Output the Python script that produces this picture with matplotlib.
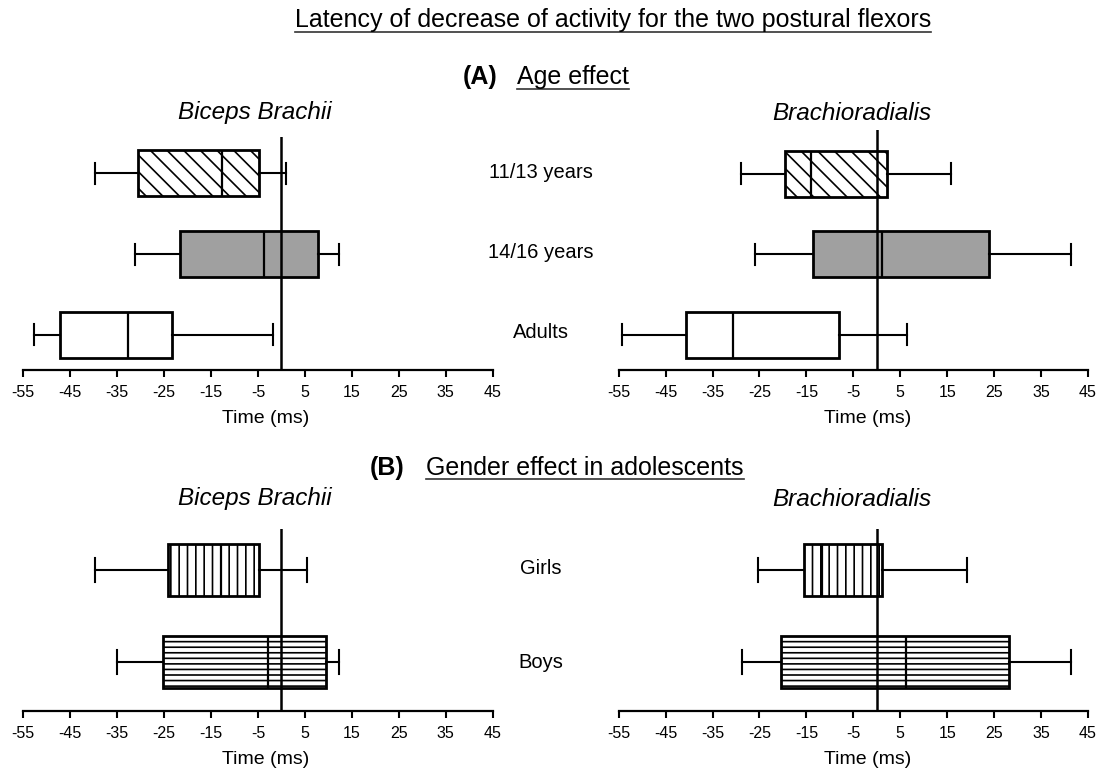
import numpy as np
import matplotlib
matplotlib.use("Agg")
import matplotlib.pyplot as plt
from matplotlib.lines import Line2D

plt.rcParams['font.family'] = ['Liberation Sans', 'DejaVu Sans']
plt.rcParams['hatch.linewidth'] = 1.2

W, H = 1102, 773

# ============ DATA (ms) ============
age_groups = ["11/13 years", "14/16 years", "Adults"]
gender_groups = ["Girls", "Boys"]

# age effect, biceps brachii
bb_age_whislo = [-39.7, -31.2, -52.7]
bb_age_q1 = [-30.5, -21.6, -47.1]
bb_age_med = [-12.7, -3.8, -32.6]
bb_age_q3 = [-4.8, 7.7, -23.3]
bb_age_whishi = [1.0, 12.3, -1.9]

# age effect, brachioradialis
br_age_whislo = [-28.9, -25.9, -54.2]
br_age_q1 = [-19.6, -13.7, -40.7]
br_age_med = [-14.0, 1.0, -30.7]
br_age_q3 = [2.1, 23.8, -8.1]
br_age_whishi = [15.8, 41.3, 6.4]

# gender effect, biceps brachii
bb_sex_whislo = [-39.8, -35.0]
bb_sex_q1 = [-24.2, -25.2]
bb_sex_med = [-12.9, -2.9]
bb_sex_q3 = [-4.7, 9.4]
bb_sex_whishi = [5.4, 12.3]

# gender effect, brachioradialis
br_sex_whislo = [-25.4, -28.7]
br_sex_q1 = [-15.6, -20.4]
br_sex_med = [-11.6, 6.2]
br_sex_q3 = [1.2, 28.2]
br_sex_whishi = [19.3, 41.3]

xticks = np.arange(-55, 46, 10)

age_faces = ["white", "#a0a0a0", "white"]
age_hatches = ["\\\\", None, None]
sex_faces = ["white", "white"]
sex_hatches = ["||", "---"]


def px(x, y):
    return x / W, 1 - y / H


def make_stats(lo, q1, med, q3, hi):
    return [dict(whislo=a, q1=b, med=c, q3=d, whishi=e)
            for a, b, c, d, e in zip(lo, q1, med, q3, hi)]


def panel(rect_px, ylim, stats, faces, hatches, width, capw, label_x):
    x0, y0, x1, y1 = rect_px
    l, b = px(x0, y1)
    ax = fig.add_axes([l, b, (x1 - x0) / W, (y1 - y0) / H])
    n = len(stats)
    pos = np.arange(n, 0, -1)
    bp = ax.bxp(stats, positions=pos, orientation='horizontal', widths=width,
                capwidths=capw, showfliers=False, patch_artist=True,
                boxprops=dict(linewidth=2.0, edgecolor="black"),
                whiskerprops=dict(linewidth=1.5, color="black"),
                capprops=dict(linewidth=1.5, color="black"),
                medianprops=dict(linewidth=1.6, color="black"))
    for box, fc, h in zip(bp["boxes"], faces, hatches):
        box.set_facecolor(fc)
        if h:
            box.set_hatch(h)
    ax.axvline(0, color="black", lw=1.8, zorder=5)
    ax.set_xlim(-55, 45)
    ax.set_ylim(*ylim)
    ax.set_xticks(xticks)
    ax.set_xticklabels([str(v) for v in xticks], fontsize=11.5)
    ax.set_yticks([])
    for s in ["top", "right", "left"]:
        ax.spines[s].set_visible(False)
    ax.spines["bottom"].set_linewidth(1.6)
    ax.tick_params(axis="x", direction="out", length=5, width=1.5, pad=6)
    ax.set_xlabel("Time (ms)", fontsize=14)
    # label top ~40 px under the axis line
    ax.xaxis.set_label_coords(label_x, -40 / (y1 - y0))
    ax.patch.set_alpha(0)
    return ax


fig = plt.figure(figsize=(W / 100, H / 100), dpi=100)

# top row: age effect
panel((23.3, 137, 492.7, 370), (0.565, 3.45),
      make_stats(bb_age_whislo, bb_age_q1, bb_age_med, bb_age_q3, bb_age_whishi),
      age_faces, age_hatches, 0.57, 0.26, 0.517)
panel((618.7, 130, 1088, 370), (0.565, 3.54),
      make_stats(br_age_whislo, br_age_q1, br_age_med, br_age_q3, br_age_whishi),
      age_faces, age_hatches, 0.57, 0.26, 0.531)

# bottom row: gender effect
panel((23.3, 529, 492.7, 710.7), (0.471, 2.446),
      make_stats(bb_sex_whislo, bb_sex_q1, bb_sex_med, bb_sex_q3, bb_sex_whishi),
      sex_faces, sex_hatches, 0.565, 0.27, 0.517)
panel((618.7, 529, 1088, 710.7), (0.471, 2.446),
      make_stats(br_sex_whislo, br_sex_q1, br_sex_med, br_sex_q3, br_sex_whishi),
      sex_faces, sex_hatches, 0.565, 0.27, 0.531)

# group labels
for lab, y in zip(age_groups, [173, 253, 333]):
    fig.text(*px(541, y), lab, fontsize=14.5, ha="center", va="center")
for lab, y in zip(gender_groups, [568, 663]):
    fig.text(*px(541, y), lab, fontsize=14.5, ha="center", va="center")

# muscle names
for x, y, name in [(255, 113, "Biceps Brachii"), (852, 114, "Brachioradialis"),
                   (255, 498, "Biceps Brachii"), (852, 500, "Brachioradialis")]:
    fig.text(*px(x, y), name, fontsize=17.5, style="italic", ha="center", va="center")

# headings
underlined = []
underlined.append(fig.text(*px(613, 20), "Latency of decrease of activity for the two postural flexors",
                           fontsize=18, ha="center", va="center"))
fig.text(*px(463, 77), "(A)", fontsize=18, fontweight="bold", ha="left", va="center")
underlined.append(fig.text(*px(517, 77), "Age effect", fontsize=18, ha="left", va="center"))
fig.text(*px(370, 468), "(B)", fontsize=18, fontweight="bold", ha="left", va="center")
underlined.append(fig.text(*px(426, 468), "Gender effect in adolescents", fontsize=18, ha="left", va="center"))

fig.canvas.draw()
r = fig.canvas.get_renderer()
for t in underlined:
    bb = t.get_window_extent(r)
    yy = bb.y0 + 0.5
    fig.add_artist(Line2D([bb.x0 / W, bb.x1 / W], [yy / H, yy / H], color="#333333", lw=1.2))

fig.savefig("out.png", dpi=100)
